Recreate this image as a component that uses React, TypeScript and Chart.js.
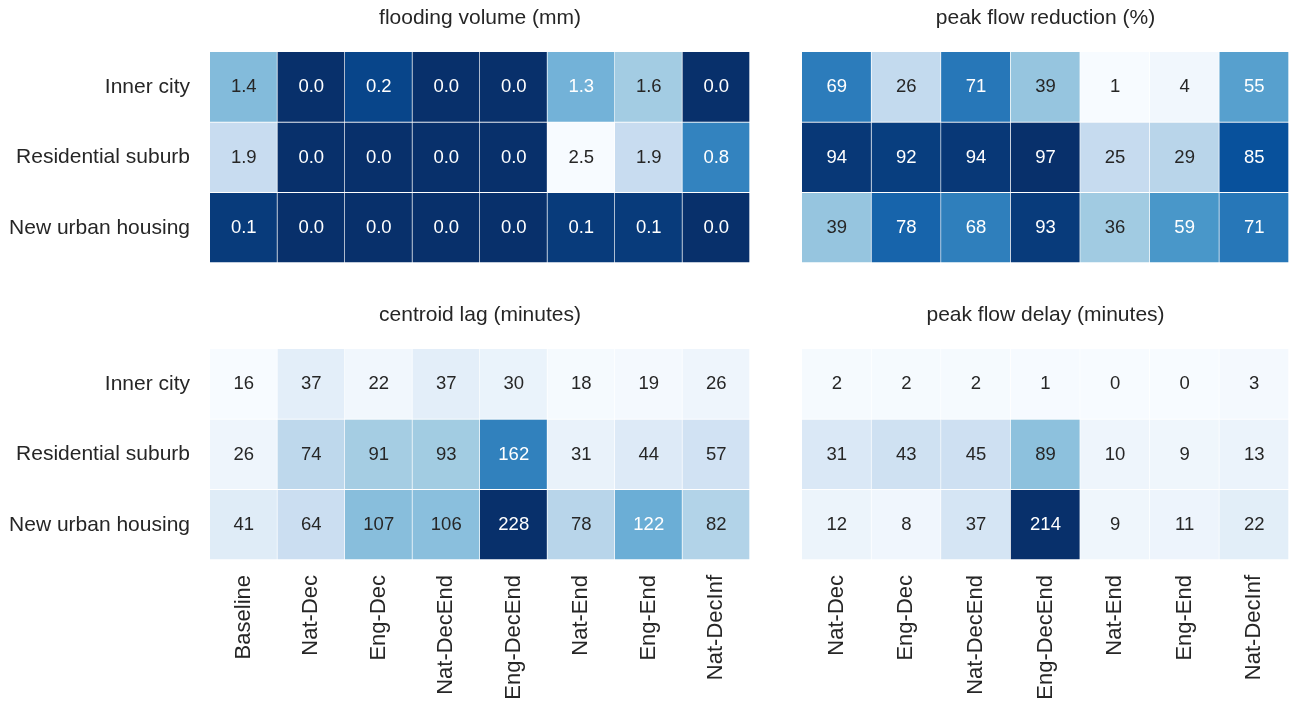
import React, { useEffect, useRef } from "react";
import { Chart, registerables } from "chart.js";

Chart.register(...registerables);

// ---------- data ----------
const rowLabels = ["Inner city", "Residential suburb", "New urban housing"];
const colsAll = ["Baseline", "Nat-Dec", "Eng-Dec", "Nat-DecEnd", "Eng-DecEnd", "Nat-End", "Eng-End", "Nat-DecInf"];
const colsNoBase = ["Nat-Dec", "Eng-Dec", "Nat-DecEnd", "Eng-DecEnd", "Nat-End", "Eng-End", "Nat-DecInf"];

const floodInner = [1.4, 0.0, 0.2, 0.0, 0.0, 1.3, 1.6, 0.0];
const floodSuburb = [1.9, 0.0, 0.0, 0.0, 0.0, 2.5, 1.9, 0.8];
const floodNew = [0.1, 0.0, 0.0, 0.0, 0.0, 0.1, 0.1, 0.0];

const reductionInner = [69, 26, 71, 39, 1, 4, 55];
const reductionSuburb = [94, 92, 94, 97, 25, 29, 85];
const reductionNew = [39, 78, 68, 93, 36, 59, 71];

const lagInner = [16, 37, 22, 37, 30, 18, 19, 26];
const lagSuburb = [26, 74, 91, 93, 162, 31, 44, 57];
const lagNew = [41, 64, 107, 106, 228, 78, 122, 82];

const delayInner = [2, 2, 2, 1, 0, 0, 3];
const delaySuburb = [31, 43, 45, 89, 10, 9, 13];
const delayNew = [12, 8, 37, 214, 9, 11, 22];

// ---------- colour ----------
const BLUES = ["#f7fbff", "#deebf7", "#c6dbef", "#9ecae1", "#6baed6", "#4292c6", "#2171b5", "#08519c", "#08306b"];
const hexToRgb = (h: string) => [parseInt(h.slice(1, 3), 16), parseInt(h.slice(3, 5), 16), parseInt(h.slice(5, 7), 16)];
const BLUES_RGB = BLUES.map(hexToRgb);
function blues(t: number): number[] {
  const tt = Math.max(0, Math.min(1, t));
  const p = tt * (BLUES_RGB.length - 1);
  const i = Math.min(Math.floor(p), BLUES_RGB.length - 2);
  const f = p - i;
  const a = BLUES_RGB[i];
  const b = BLUES_RGB[i + 1];
  return [0, 1, 2].map((k) => Math.round(a[k] + (b[k] - a[k]) * f));
}
const rgbStr = (c: number[]) => `rgb(${c[0]},${c[1]},${c[2]})`;
function luminance(c: number[]) {
  const lin = c.map((v) => {
    const s = v / 255;
    return s <= 0.03928 ? s / 12.92 : Math.pow((s + 0.055) / 1.055, 2.4);
  });
  return 0.2126 * lin[0] + 0.7152 * lin[1] + 0.0722 * lin[2];
}

const FONT = "'Liberation Sans', Arial, Helvetica, sans-serif";
const TEXT = "#262626";

type Panel = {
  title: string;
  cols: string[];
  values: number[][];
  reversed: boolean;
  decimals: number;
  showY: boolean;
  showX: boolean;
  left: number;
  top: number;
  width: number;
  height: number;
  padTop: number;
  padRight: number;
  padBottom: number;
};

const panels: Panel[] = [
  { title: "flooding volume (mm)", cols: colsAll, values: [floodInner, floodSuburb, floodNew], reversed: true, decimals: 1, showY: true, showX: false, left: 0, top: 0, width: 760, height: 280, padTop: 52, padRight: 10, padBottom: 17 },
  { title: "peak flow reduction (%)", cols: colsNoBase, values: [reductionInner, reductionSuburb, reductionNew], reversed: false, decimals: 0, showY: false, showX: false, left: 802, top: 0, width: 487, height: 280, padTop: 52, padRight: 0, padBottom: 17 },
  { title: "centroid lag (minutes)", cols: colsAll, values: [lagInner, lagSuburb, lagNew], reversed: false, decimals: 0, showY: true, showX: true, left: 0, top: 290, width: 760, height: 415, padTop: 59, padRight: 10, padBottom: 0 },
  { title: "peak flow delay (minutes)", cols: colsNoBase, values: [delayInner, delaySuburb, delayNew], reversed: false, decimals: 0, showY: false, showX: true, left: 802, top: 290, width: 487, height: 415, padTop: 59, padRight: 0, padBottom: 0 },
];

function HeatPanel({ p }: { p: Panel }) {
  const ref = useRef<HTMLCanvasElement>(null);
  useEffect(() => {
    if (!ref.current) return;
    const all = p.values.flat();
    const vmin = Math.min(...all);
    const vmax = Math.max(...all);
    const colorOf = (v: number) => {
      let t = (v - vmin) / (vmax - vmin);
      if (p.reversed) t = 1 - t;
      return blues(t);
    };
    const textPlugin = {
      id: "heatText",
      afterDatasetsDraw(chart: any) {
        const ctx = chart.ctx;
        const xs = chart.scales.x;
        const ys = chart.scales.y;
        ctx.save();
        ctx.textAlign = "center";
        ctx.textBaseline = "middle";
        ctx.font = `18.5px ${FONT}`;
        p.values.forEach((row, r) => {
          row.forEach((v, c) => {
            const col = colorOf(v);
            ctx.fillStyle = luminance(col) > 0.408 ? TEXT : "#ffffff";
            ctx.fillText(v.toFixed(p.decimals), xs.getPixelForValue(c), ys.getPixelForValue(r + 0.5));
          });
        });
        const ca = chart.chartArea;
        ctx.fillStyle = TEXT;
        ctx.font = `21px ${FONT}`;
        ctx.fillText(p.title, (ca.left + ca.right) / 2, ca.top - 34);
        ctx.restore();
      },
    };
    const xScale: any = {
      type: "category",
      offset: true,
      display: p.showX,
      grid: { display: false, drawTicks: false },
      border: { display: false },
      ticks: {
        autoSkip: false,
        minRotation: 90,
        maxRotation: 90,
        padding: 15,
        color: TEXT,
        font: { family: FONT, size: 22 },
      },
      afterFit: (s: any) => {
        s.paddingLeft = 0;
        s.paddingRight = 0;
        if (p.showX) s.height = 145;
      },
    };
    const yScale: any = {
      type: "linear",
      min: 0,
      max: 3,
      reverse: true,
      display: p.showY,
      grid: { display: false, drawTicks: false },
      border: { display: false },
      afterBuildTicks: (s: any) => {
        s.ticks = [0.5, 1.5, 2.5].map((v) => ({ value: v }));
      },
      ticks: {
        padding: 20,
        color: TEXT,
        font: { family: FONT, size: 21 },
        callback: (v: any) => rowLabels[Math.floor(Number(v))],
      },
      afterFit: (s: any) => {
        s.paddingTop = 0;
        s.paddingBottom = 0;
        if (p.showY) s.width = 210;
      },
    };
    const chart = new Chart(ref.current, {
      type: "bar",
      data: {
        labels: p.cols,
        datasets: p.values.map((row, r) => ({
          label: rowLabels[r],
          data: p.cols.map(() => [r, r + 1]),
          backgroundColor: row.map((v) => rgbStr(colorOf(v))),
          borderColor: "#ffffff",
          borderWidth: { top: 0, left: 0, right: 1, bottom: 1 },
          borderSkipped: false,
          grouped: false,
          barPercentage: 1,
          categoryPercentage: 1,
        })),
      } as any,
      plugins: [textPlugin],
      options: {
        responsive: false,
        animation: false,
        layout: { padding: { top: p.padTop, right: p.padRight, bottom: p.padBottom, left: 0 } },
        plugins: { legend: { display: false }, tooltip: { enabled: false }, title: { display: false } },
        scales: { x: xScale, y: yScale },
      } as any,
    });
    return () => chart.destroy();
  }, [p]);
  return (
    <canvas
      ref={ref}
      width={p.width}
      height={p.height}
      style={{ position: "absolute", left: p.left, top: p.top, width: p.width, height: p.height }}
    />
  );
}

export default function App() {
  return (
    <div style={{ position: "fixed", left: 0, top: 0, width: 1289, height: 705, background: "#ffffff", overflow: "hidden" }}>
      {panels.map((p, i) => (
        <HeatPanel key={i} p={p} />
      ))}
    </div>
  );
}
